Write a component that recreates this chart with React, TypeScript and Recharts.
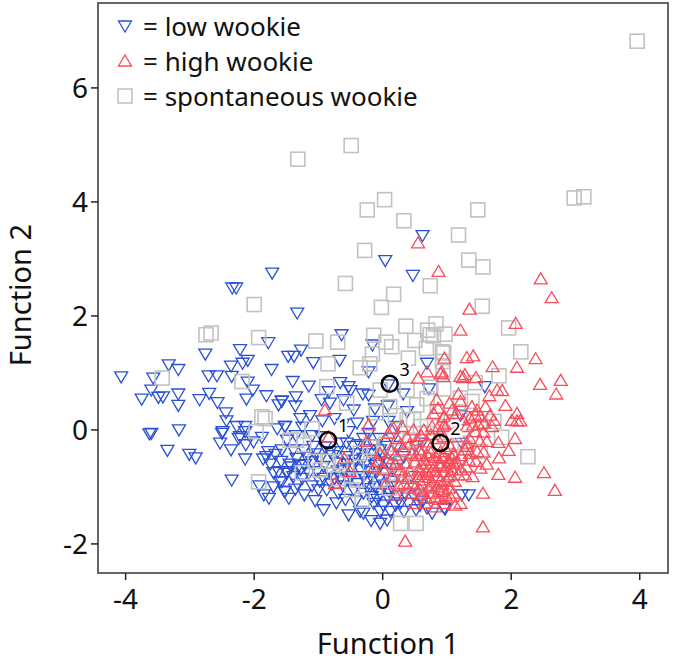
import { ScatterChart, Scatter, XAxis, YAxis, ReferenceArea, Legend } from "recharts"

// values: [function 1, function 2]
const lowWookie: [number, number][] = [
  [-4.07, 0.93], [-3.33, 1.14], [-3.18, 1.06], [-3.57, 0.91], [-3.6, 0.7], [-3.75, 0.54], [-3.49, 0.57], [-3.42, 0.58],
  [-3.18, 0.63], [-3.18, 0.43], [-2.76, 1.33], [-2.22, 1.41], [-1.78, 1.53], [-2.36, 1.12], [-2.18, 1.17], [-2.1, 1.22],
  [-1.73, 1.06], [-2.71, 0.95], [-2.58, 0.95], [-2.35, 0.94], [-2.1, 0.84], [-2.02, 0.7], [-2.7, 0.64], [-2.85, 0.53],
  [-2.57, 0.48], [-2.12, 0.54], [-1.81, 0.6], [-1.57, 0.51], [-1.62, 0.44], [-2.44, 0.3], [-2.43, 0.16], [-2.49, -0.03],
  [-2.5, -0.06], [-2.53, -0.23], [-2.27, 0.06], [-2.14, 0.06], [-2.14, -0.03], [-2.24, -0.15], [-2.22, -0.12], [-2.13, -0.26],
  [-2.01, -0.21], [-1.88, -0.13], [-1.64, 0.02], [-1.52, 0.06], [-2.36, -0.35], [-2.14, -0.51], [-1.78, -0.38], [-1.67, -0.43],
  [-1.81, -0.47], [-1.86, -0.51], [-3.6, -0.06], [-3.63, -0.07], [-3.17, 0], [-3.35, -0.36], [-3.01, -0.43], [-2.91, -0.49],
  [-2.35, -0.88], [-1.92, -0.98], [-1.85, -1.14], [-1.77, -1.2], [-1.7, -1], [-1.6, -0.91], [-1.53, -1.08], [-1.62, -0.73],
  [-1.49, -0.73], [0.62, 3.41], [0.04, 2.97], [0.47, 2.71], [-1.33, 2.05], [-1.72, 2.75], [-2.34, 2.49], [-2.28, 2.49],
  [-1.27, 1.4], [-1.38, 1.29], [-1.47, 1.29], [-1.08, 1.18], [-0.67, 1.22], [-0.64, 1.67], [-0.16, 1.49], [-0.22, 1.02],
  [-1.4, 0.85], [-1.15, 0.77], [-1.35, 0.58], [-1.36, 0.42], [-1.57, 0.5], [-0.66, 0.83], [-0.53, 0.76], [-0.5, 0.69],
  [-0.84, 0.67], [-0.95, 0.53], [-0.82, 0.47], [-0.61, 0.53], [-0.45, 0.35], [-0.31, 0.63], [-0.22, 0.61], [-0.12, 0.37],
  [0.09, 0.79], [0.32, 0.63], [0.69, 1.17], [0.72, 0.72], [-1.13, 0.25], [-1.28, 0.2], [-0.94, 0.16], [-1.52, 0.06],
  [0.09, 0.15], [0.38, 0.32], [-0.53, -0.03], [-0.22, -0.06], [-0.82, -0.38], [-1.08, -0.29], [-1.23, -0.35], [-1.39, -0.35],
  [-1.49, -0.18], [-1.57, -0.35], [-1.34, -0.5], [-1.21, -0.61], [-1.1, -0.56], [-0.97, -0.5], [-1.28, -0.7], [-1.15, -0.76],
  [-1.02, -0.73], [-0.92, -0.64], [-0.82, -0.76], [-1.49, -0.76], [-1.39, -0.82], [-1.57, -0.91], [-1.52, -1.08], [-1.36, -1.04],
  [-1.22, -1.14], [-1.05, -1.24], [-0.92, -1.4], [-0.87, -1.05], [-0.69, -1.11], [-0.53, -1.49], [-0.35, -1.43], [-0.3, -1.46],
  [-0.18, -1.59], [-0.04, -1.64], [0.07, -1.58], [-0.04, -1.43], [0.12, -1.43], [0.33, -1.43], [0.52, -1.4], [0.77, -1.46],
  [0.97, -1.39], [1.23, -1.14], [1.34, -1.14], [-0.66, -0.23], [-0.56, -0.23], [-0.45, -0.29], [-0.35, -0.26], [-0.25, -0.35],
  [-0.14, -0.26], [-0.04, -0.35], [0.07, -0.29], [-0.56, -0.47], [-0.43, -0.53], [-0.3, -0.5], [-0.17, -0.53], [-0.04, -0.56],
  [0.09, -0.58], [-0.71, -0.58], [-0.61, -0.7], [-0.48, -0.67], [-0.35, -0.7], [-0.22, -0.73], [-0.09, -0.73], [0.04, -0.76],
  [-0.53, -0.88], [-0.39, -0.94], [-0.25, -0.91], [-0.12, -1], [0.01, -0.97], [0.14, -1], [-0.3, -1.11], [-0.17, -1.17],
  [-0.04, -1.11], [0.09, -1.2], [0.22, -1.17], [-0.14, -1.29], [0.01, -1.32], [0.2, -1.32], [0.4, -1.29], [0.58, -1.32],
  [0.69, -1.37], [0.51, -0.29], [0.61, -0.23], [0.22, 0.06], [0.33, -0.47], [0.22, -0.29], [0.45, -0.82], [1.59, 0.76],
  [1.21, 0.26], [1.23, -0.23], [0.96, -1.37], [-1.45, -0.6], [-1.58, -0.55], [-1.46, -1.2], [-1.33, -0.95], [-0.75, -0.85],
  [-0.98, -0.9], [-1.1, -0.98], [-0.62, -0.98], [-0.78, -0.45], [-0.9, -0.3], [-0.7, -0.72], [-0.3, -0.82], [-0.18, -0.42],
  [-1.3, -0.62], [-1.18, -0.48], [-1.05, -0.42], [-0.92, -0.85], [-1.25, -0.85], [-1.42, -0.65], [-1, -1.05], [-0.8, -0.95],
  [-0.72, -1.28], [-0.58, -1.22], [-0.45, -1.05], [-0.42, -1.25], [-0.22, -1.03], [-0.08, -1.22], [0.1, -1.08], [0.28, -1.28],
  [-0.28, -0.62], [-0.1, -0.62], [0, -0.45], [0.15, -0.68], [0.28, -0.55], [0.15, -0.15], [-0.05, -0.15], [-0.3, -0.15],
  [-0.42, -0.42], [-0.55, -0.6], [-0.7, -0.38], [-0.5, -0.82], [-0.65, -0.85], [-0.18, -0.82], [-0.05, -0.85], [0.18, -0.9],
  [0.35, -1.12], [0.48, -1.15], [0.62, -1.25], [-0.95, -0.12], [-1.1, -0.1], [-1.35, -0.1], [-1.25, 0.05], [-0.75, 0.2],
  [-0.62, 0.1], [-0.4, 0.12], [-0.15, 0.15], [0.08, 0.42], [-1.7, -0.75], [-1.75, -0.6],
]

const highWookie: [number, number][] = [
  [0.55, 3.28], [0.87, 2.78], [2.46, 2.65], [2.63, 2.32], [1.35, 2.12], [1.21, 1.75], [2.07, 1.87], [1.31, 1.27],
  [1.41, 1.3], [0.96, 1.26], [1.71, 1.11], [2.09, 1.1], [2.38, 1.25], [2.45, 0.8], [2.77, 0.87], [2.7, 0.63],
  [1.21, 0.94], [1.28, 0.97], [1.25, 0.92], [1.45, 0.92], [0.94, 0.94], [1.78, 0.7], [1.86, 0.69], [1.66, 0.6],
  [1.91, 0.43], [1.6, 0.41], [2.09, 0.29], [2.01, 0.17], [2.14, 0.16], [2.09, 0.16], [1.21, 0.5], [1.18, 0.63],
  [1.04, 0.47], [1.44, 0.26], [1.36, 0.21], [1.52, 0.23], [1.67, 0.26], [1.73, 0.17], [1.7, 0.06], [1.41, 0.09],
  [1.49, 0.09], [1.44, -0.03], [1.57, -0.04], [0.96, 0.23], [0.96, 0.09], [2.06, -0.15], [1.8, -0.22], [1.51, -0.2],
  [1.96, -0.36], [1.81, -0.49], [1.31, -0.29], [1.47, -0.38], [1.57, -0.39], [1.34, -0.53], [1.62, -0.6], [1.52, -0.67],
  [1.1, -0.59], [1.03, -0.56], [1.8, -0.78], [2.06, -0.83], [2.51, -0.75], [2.68, -1.06], [1.56, -1.11], [1.56, -1.7],
  [1.4, -0.82], [1.28, -0.79], [1.18, -0.79], [1.05, -0.79], [1.21, -1.29], [1.1, -1.11], [1.13, -1.32], [0.95, -1.05],
  [-0.9, 0.35], [0.92, 1.02], [0.9, 0.99], [0.69, 1.02], [0.55, 0.91], [0.84, 0.53], [0.79, 0.29], [0.95, 0.23],
  [1.15, 0.29], [-0.22, 0.09], [0.17, 0.03], [0.3, 0.06], [0.48, 0], [0.64, 0], [0.77, 0.06], [0.95, 0.06],
  [0.09, -0.06], [0.22, -0.15], [0.38, -0.13], [0.53, -0.18], [0.69, -0.21], [0.58, -0.35], [0.74, -0.32], [0.9, -0.38],
  [1.05, -0.29], [0.45, -0.41], [0.33, -0.35], [0.2, -0.44], [-0.04, -0.41], [0.07, -0.5], [0.2, -0.61], [0.35, -0.58],
  [0.5, -0.56], [0.64, -0.53], [0.77, -0.53], [0.9, -0.58], [1.03, -0.53], [1.15, -0.56], [1.28, -0.35], [1.36, -0.41],
  [0.56, -0.7], [0.69, -0.73], [0.82, -0.73], [0.95, -0.73], [1.08, -0.7], [1.21, -0.7], [0.33, -0.94], [0.48, -0.94],
  [0.64, -0.88], [0.77, -0.91], [0.9, -0.88], [0.45, -1.11], [0.64, -1.11], [0.77, -1.11], [0.9, -1.08], [1.03, -1.02],
  [0.2, -1.14], [0.51, -1.29], [0.66, -1.29], [0.82, -1.35], [0.95, -1.29], [0.35, -1.95], [-0.74, -0.94], [-0.51, -0.73],
  [-0.14, -0.67], [0.01, -0.7], [-0.84, -0.12], [1.39, 0.41], [1.47, 0.35], [1.31, 0.06], [1.31, -0.23], [0.85, -0.15],
  [0.95, -0.45], [0.8, -0.65], [0.7, -0.45], [1, -0.65], [0.6, -0.95], [0.85, -1], [1, -0.9], [0.72, -1.02],
  [0.88, -0.62], [1.1, -0.42], [0.62, -0.65], [0.42, -0.72], [0.3, -0.82], [0.15, -0.82], [0.95, -0.12], [1.12, 0.1],
  [0.52, -0.45], [0.6, -0.42], [0.68, -0.6], [0.75, -0.4], [0.83, -0.48], [0.92, -0.5], [0.98, -0.33], [1.08, -0.5],
  [0.55, -0.82], [0.63, -0.78], [0.72, -0.83], [0.78, -0.7], [0.86, -0.8], [0.93, -0.95], [1.02, -0.82], [1.12, -0.9],
  [0.5, -1.02], [0.58, -1.05], [0.68, -1.2], [0.74, -0.98], [0.82, -1.18], [0.88, -1.22], [0.98, -1.15], [1.06, -1.18],
  [0.4, -0.85], [0.38, -1.02], [0.25, -0.98], [0.28, -0.7], [0.12, -0.58], [0.42, -0.25], [0.6, -0.1], [0.75, -0.08],
  [0.85, 0.02], [1.02, 0.12], [1.14, -0.12], [1.22, -0.45], [1.3, -0.65], [1.35, -0.15], [1.45, -0.55], [1.62, -0.2],
  [1.58, 0.12], [1.25, 0.18], [1.08, 0.35], [0.86, 0.38], [-0.08, -0.55], [-0.25, -0.2], [-0.6, -0.5], [0.05, -0.95],
  [0.12, -0.35], [0.28, -0.25],
]

const spontaneousWookie: [number, number][] = [
  [3.96, 6.82], [-0.49, 4.99], [-1.32, 4.75], [0.03, 4.04], [-0.24, 3.86], [0.33, 3.67], [1.48, 3.86], [2.98, 4.07],
  [3.13, 4.09], [1.18, 3.42], [-0.28, 3.15], [1.34, 2.98], [1.56, 2.86], [-0.58, 2.57], [0.74, 2.53], [0.17, 2.38],
  [-0.02, 2.15], [1.55, 2.17], [-2, 2.2], [0.36, 1.82], [-0.14, 1.66], [0.83, 1.86], [0.7, 1.75], [0.74, 1.67],
  [0.79, 1.65], [0.97, 1.68], [0.5, 1.57], [0.05, 1.54], [0.14, 1.46], [-1.04, 1.56], [-0.7, 1.54], [1.96, 1.79],
  [2.15, 1.37], [0.68, 1.43], [0.93, 1.37], [-2.75, 1.67], [-2.67, 1.7], [-1.93, 1.62], [-3.43, 0.91], [-2.19, 0.85],
  [-1.88, 0.23], [-1.83, 0.2], [-1.97, -0.03], [-1.93, -0.91], [-1.44, -0.18], [0.95, 1.35], [1.81, 0.95], [1.44, 0.83],
  [1.39, 0.5], [1.21, 0.56], [1.73, 0.15], [1.85, -0.13], [2.26, -0.47], [1.52, -0.38], [1.28, -0.32], [-0.85, 1.16],
  [-0.16, 1.33], [-0.2, 1.16], [-0.35, 1.09], [0.4, 1.26], [0.93, 1.2], [0.94, 1.02], [-0.87, 0.76], [0.38, 0.7],
  [-0.04, 0.7], [0.11, 0.41], [0.53, 0.44], [0.69, 0.55], [-0.56, 0.47], [-1.34, -0.18], [-0.97, -0.7], [-1.23, -0.26],
  [-0.32, -1.23], [0.28, -1.64], [0.52, -1.64], [-0.35, -0.41], [-0.66, -0.56], [-0.48, -1.05], [-0.19, -0.59], [0.59, 0.06],
  [0.48, 0.18], [0.38, 0.18], [0.9, -1.14], [0.43, -0.18], [0.69, -0.06], [0.22, -0.76], [-0.04, -0.88], [-0.56, -0.7],
  [-0.4, -0.88], [1.21, -0.23], [-1.25, -0.75], [-1.05, -0.55], [-0.85, -0.55], [-0.7, -0.85], [-0.2, -0.3], [0.05, -0.25],
  [0.3, -0.6], [0.55, -0.55], [0.3, -0.95], [0.65, -0.95], [1, -0.45], [1.05, -0.05], [0.85, 0.3], [0.2, 0.25],
  [-0.1, 0.3], [0.1, -1.02], [1.2, 0.2], [0.75, 0.75], [0.95, 0.72], [-1.1, 0.02],
]

const circledPoints: [number, number, string][] = [
  [-0.85, -0.18, "1"],
  [0.9, -0.23, "2"],
  [0.11, 0.81, "3"],
]

const xTicks = [-4, -2, 0, 2, 4]
const yTicks = [-2, 0, 2, 4, 6]
const legendLabels = ["= low wookie", "= high wookie", "= spontaneous wookie"]

const BLUE = "#2a50d6"
const RED = "#f74c5a"
const GREY = "#c2c2c2"
const FONT = "'Noto Sans', sans-serif"

const toRows = (list: [number, number][]) => list.map(([x, y]) => ({ x, y }))

function DownMark({ cx, cy }: any) {
  return <path d={`M${cx - 6.5} ${cy - 5}H${cx + 6.5}L${cx} ${cy + 6}Z`} fill="none" stroke={BLUE} strokeWidth={1.3} />
}

function UpMark({ cx, cy }: any) {
  return <path d={`M${cx - 6.5} ${cy + 5}H${cx + 6.5}L${cx} ${cy - 6}Z`} fill="none" stroke={RED} strokeWidth={1.3} />
}

function SquareMark({ cx, cy }: any) {
  return <rect x={cx - 7} y={cy - 7} width={14} height={14} fill="none" stroke={GREY} strokeWidth={1.6} />
}

function CircleMark({ cx, cy, payload }: any) {
  return (
    <g>
      <circle cx={cx} cy={cy} r={8} fill="none" stroke="#000" strokeWidth={2.5} />
      <text
        x={cx + 15}
        y={cy - 8}
        textAnchor="middle"
        fontSize={18}
        fontFamily={FONT}
        fill="#000"
        stroke="#fff"
        strokeWidth={5}
        paintOrder="stroke"
      >
        {payload.label}
      </text>
    </g>
  )
}

function LegendBox() {
  const marks = [DownMark, UpMark, SquareMark]
  return (
    <div style={{ fontFamily: FONT, fontSize: 26, color: "#111" }}>
      {legendLabels.map((label, i) => {
        const Mark = marks[i]
        return (
          <div key={label} style={{ display: "flex", alignItems: "center", height: 35 }}>
            <svg width={27} height={20} style={{ flex: "none" }}>
              <Mark cx={9} cy={10} />
            </svg>
            <span style={{ whiteSpace: "nowrap" }}>{label}</span>
          </div>
        )
      })}
    </div>
  )
}

function XTitle({ viewBox }: any) {
  return (
    <text x={viewBox.x + viewBox.width / 2 + 5} y={654} textAnchor="middle" fontSize={29} fontFamily={FONT} fill="#111">
      Function 1
    </text>
  )
}

function YTitle({ viewBox }: any) {
  const y = viewBox.y + viewBox.height / 2 + 7
  return (
    <text x={31} y={y} transform={`rotate(-90 31 ${y})`} textAnchor="middle" fontSize={29} fontFamily={FONT} fill="#111">
      Function 2
    </text>
  )
}

export default function App() {
  return (
    <div style={{ position: "absolute", left: 0, top: 0 }}>
      <ScatterChart width={675} height={662} margin={{ top: 3, right: 7, bottom: 0, left: 0 }}>
        <XAxis
          type="number"
          dataKey="x"
          domain={[-4.43, 4.44]}
          ticks={xTicks}
          allowDataOverflow
          height={89}
          tickSize={7}
          tickMargin={9}
          tick={{ fontSize: 28, fontFamily: FONT, fill: "#111" }}
          tickLine={{ stroke: "#222", strokeWidth: 1.5 }}
          axisLine={{ stroke: "#666", strokeWidth: 2 }}
          label={<XTitle />}
        />
        <YAxis
          type="number"
          dataKey="y"
          domain={[-2.51, 7.49]}
          ticks={yTicks}
          allowDataOverflow
          width={98}
          tickSize={7}
          tickMargin={3}
          tick={{ fontSize: 28, fontFamily: FONT, fill: "#111" }}
          tickLine={{ stroke: "#222", strokeWidth: 1.5 }}
          axisLine={{ stroke: "#666", strokeWidth: 2 }}
          label={<YTitle />}
        />
        <ReferenceArea x1={-4.43} x2={4.44} y1={-2.51} y2={7.49} fill="none" stroke="#666" strokeWidth={2} />
        <Legend
          layout="horizontal"
          align="center"
          verticalAlign="middle"
          wrapperStyle={{ left: 116, top: 8, width: 330, height: 105, bottom: "auto" }}
          content={<LegendBox />}
        />
        <Scatter data={toRows(lowWookie)} shape={DownMark} isAnimationActive={false} />
        <Scatter data={toRows(spontaneousWookie)} shape={SquareMark} isAnimationActive={false} />
        <Scatter data={toRows(highWookie)} shape={UpMark} isAnimationActive={false} />
        <Scatter
          data={circledPoints.map(([x, y, label]) => ({ x, y, label }))}
          shape={CircleMark}
          isAnimationActive={false}
        />
      </ScatterChart>
    </div>
  )
}
